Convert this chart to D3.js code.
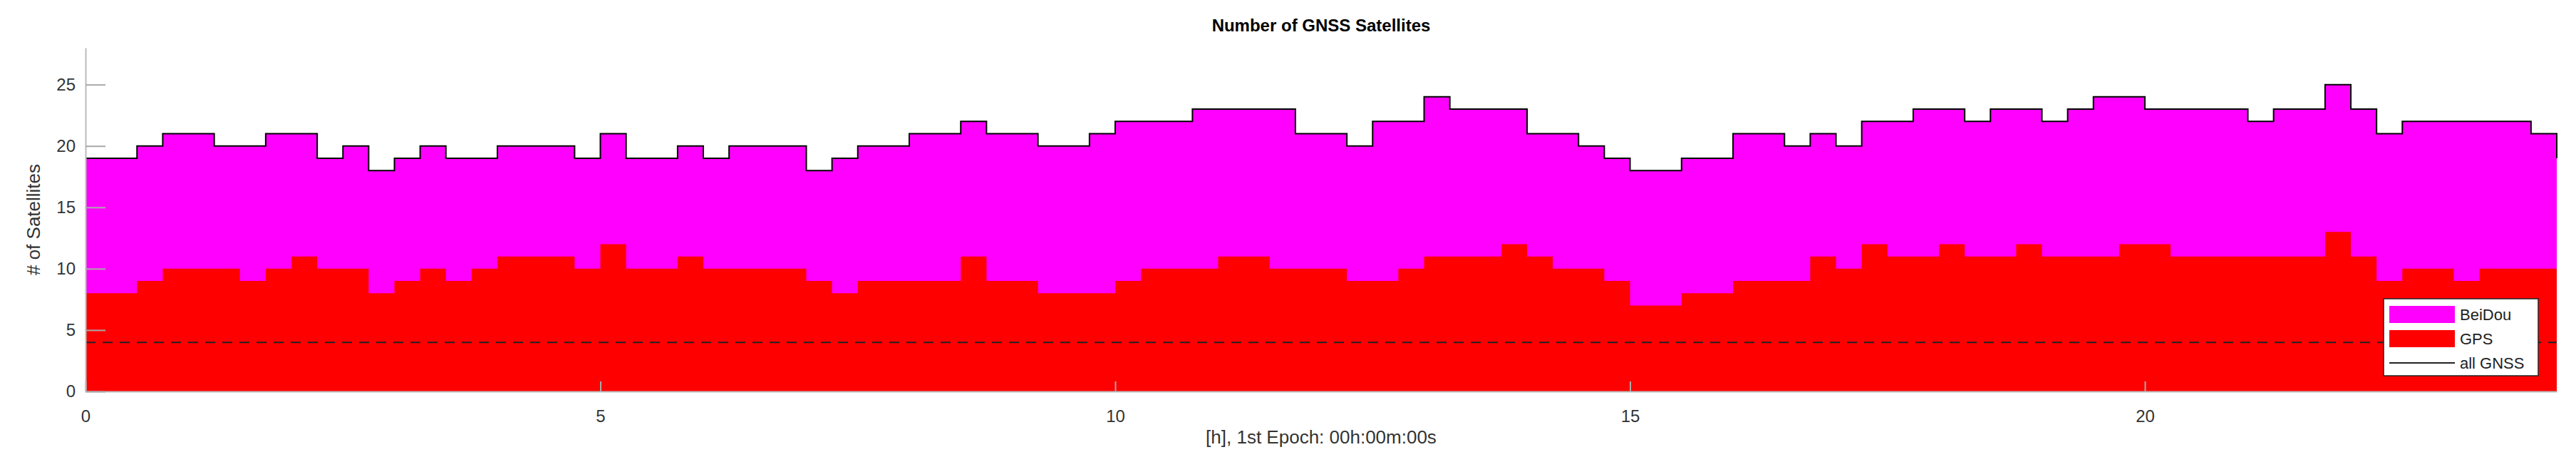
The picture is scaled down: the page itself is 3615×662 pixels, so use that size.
<!DOCTYPE html>
<html>
<head>
<meta charset="utf-8">
<script src="https://cdn.jsdelivr.net/npm/d3@7"></script>
<style>
body { margin: 0; background: #fff; }
text { font-family: "Liberation Sans", Arial, sans-serif; }
</style>
</head>
<body>
<svg id="chart" width="3615" height="662"></svg>
<script>
// quarter-hour samples, value holds until next sample
var stepH = 0.25;
var allGnss = [
  19,19,20,21,21,20,20,21, 21,19,20,18,19,20,19,19,
  20,20,20,19,21,19,19,20, 19,20,20,20,18,19,20,20,
  21,21,22,21,21,20,20,21, 22,22,22,23,23,23,23,21,
  21,20,22,22,24,23,23,23, 21,21,20,19,18,18,19,19,
  21,21,20,21,20,22,22,23, 23,22,23,23,22,23,24,24,
  23,23,23,23,22,23,23,25, 23,21,22,22,22,22,22,21, 19
];
var gps = [
  8,8,9,10,10,10,9,10, 11,10,10,8,9,10,9,10,
  11,11,11,10,12,10,10,11, 10,10,10,10,9,8,9,9,
  9,9,11,9,9,8,8,8, 9,10,10,10,11,11,10,10,
  10,9,9,10,11,11,11,12, 11,10,10,9,7,7,8,8,
  9,9,9,11,10,12,11,11, 12,11,11,12,11,11,11,12,
  12,11,11,11,11,11,11,13, 11,9,10,10,9,10,10,10, 10
];
var xTicks = [0, 5, 10, 15, 20];
var yTicks = [0, 5, 10, 15, 20, 25];
var minSats = 4;

var svg = d3.select("#chart");
var pLeft = 120, pRight = 3588, pTop = 67, pBottom = 549;

var x = d3.scaleLinear().domain([0, 24]).range([pLeft, pRight]);
var y = d3.scaleLinear().domain([0, 28]).range([pBottom, pTop]);

var rows = allGnss.map(function(d, i){ return {t: i * stepH, all: d, gps: gps[i]}; });

var area = d3.area().curve(d3.curveStepAfter).x(function(d){ return x(d.t); }).y0(y(0));

svg.append("path").datum(rows)
  .attr("fill", "#ff00ff")
  .attr("d", area.y1(function(d){ return y(d.all); }));

svg.append("path").datum(rows)
  .attr("fill", "#ff0000")
  .attr("d", area.y1(function(d){ return y(d.gps); }));

svg.append("path").datum(rows)
  .attr("fill", "none").attr("stroke", "#000").attr("stroke-width", 2)
  .attr("d", d3.line().curve(d3.curveStepAfter)
    .x(function(d){ return x(d.t); }).y(function(d){ return y(d.all); }));

svg.append("line")
  .attr("x1", x(0)).attr("x2", x(24)).attr("y1", y(minSats)).attr("y2", y(minSats))
  .attr("stroke", "#222").attr("stroke-width", 2).attr("stroke-dasharray", "14,10");

// axes, MATLAB style (ticks inward)
var gx = svg.append("g").attr("transform", "translate(0," + pBottom + ")")
  .call(d3.axisBottom(x).tickValues(xTicks).tickSizeInner(-14).tickSizeOuter(0).tickPadding(26));
var gy = svg.append("g").attr("transform", "translate(" + pLeft + ",0)")
  .call(d3.axisLeft(y).tickValues(yTicks).tickSizeInner(-28).tickSizeOuter(0).tickPadding(14));
[gx, gy].forEach(function(g){
  g.select(".domain").attr("stroke", "#bbb").attr("stroke-width", 2);
  g.selectAll(".tick line").attr("stroke", "#aaa").attr("stroke-width", 2);
  g.selectAll(".tick text").attr("font-size", 24).attr("fill", "#333");
});

svg.append("text").attr("x", (pLeft + pRight) / 2).attr("y", 44)
  .attr("text-anchor", "middle").attr("font-size", 24).attr("font-weight", "bold")
  .text("Number of GNSS Satellites");
svg.append("text").attr("x", (pLeft + pRight) / 2).attr("y", 622)
  .attr("text-anchor", "middle").attr("font-size", 26).attr("fill", "#333")
  .text("[h], 1st Epoch: 00h:00m:00s");
svg.append("text").attr("transform", "translate(56," + (pBottom + pTop) / 2 + ") rotate(-90)")
  .attr("text-anchor", "middle").attr("font-size", 26).attr("fill", "#333")
  .text("# of Satellites");

// legend
var lg = svg.append("g").attr("transform", "translate(3345,419)");
lg.append("rect").attr("width", 217).attr("height", 108)
  .attr("fill", "#fff").attr("stroke", "#222").attr("stroke-width", 1.5);
var items = [
  {name: "BeiDou", color: "#ff00ff", type: "patch"},
  {name: "GPS", color: "#ff0000", type: "patch"},
  {name: "all GNSS", color: "#000", type: "line"}
];
items.forEach(function(it, i){
  var cy = 22 + i * 34;
  if (it.type === "patch") {
    lg.append("rect").attr("x", 8).attr("y", cy - 12).attr("width", 92).attr("height", 24).attr("fill", it.color);
  } else {
    lg.append("line").attr("x1", 8).attr("x2", 100).attr("y1", cy).attr("y2", cy)
      .attr("stroke", "#222").attr("stroke-width", 2);
  }
  lg.append("text").attr("x", 107).attr("y", cy + 8).attr("font-size", 22).attr("fill", "#222").text(it.name);
});
</script>
</body>
</html>
